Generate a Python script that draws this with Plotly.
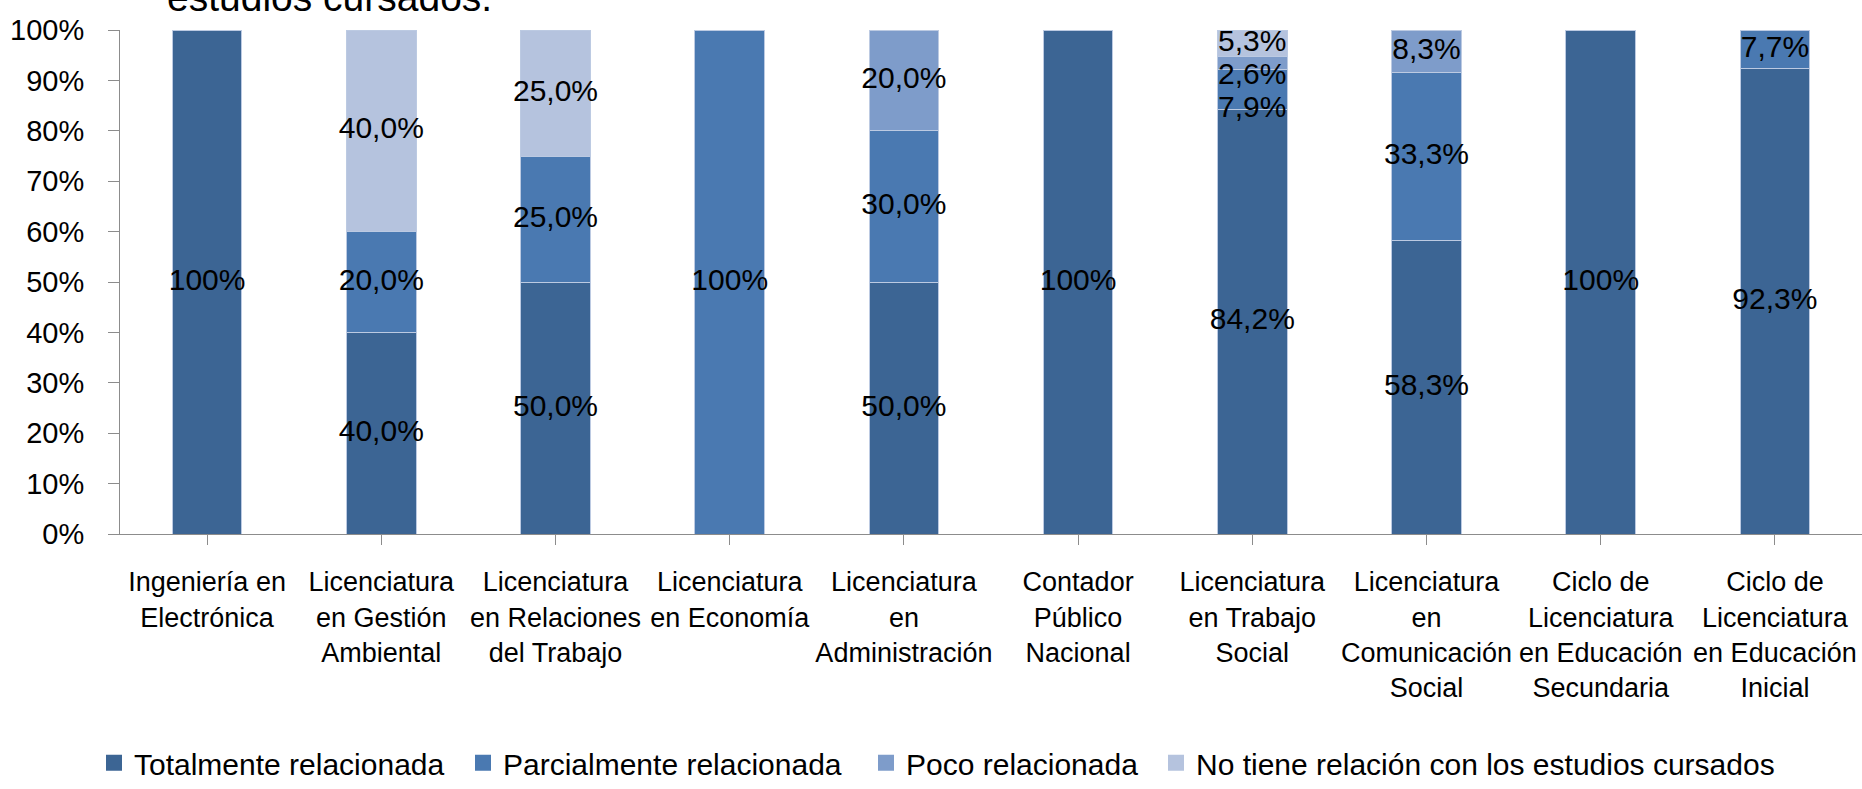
import plotly.graph_objects as go

categories = [
    "Ingeniería en<br>Electrónica",
    "Licenciatura<br>en Gestión<br>Ambiental",
    "Licenciatura<br>en Relaciones<br>del Trabajo",
    "Licenciatura<br>en Economía",
    "Licenciatura<br>en<br>Administración",
    "Contador<br>Público<br>Nacional",
    "Licenciatura<br>en Trabajo<br>Social",
    "Licenciatura<br>en<br>Comunicación<br>Social",
    "Ciclo de<br>Licenciatura<br>en Educación<br>Secundaria",
    "Ciclo de<br>Licenciatura<br>en Educación<br>Inicial",
]

series_names = [
    "Totalmente relacionada",
    "Parcialmente relacionada",
    "Poco relacionada",
    "No tiene relación con los estudios cursados",
]

totalmente = [100.0, 40.0, 50.0, 0.0, 50.0, 100.0, 84.2, 58.3, 100.0, 92.3]
parcialmente = [0.0, 20.0, 25.0, 100.0, 30.0, 0.0, 7.9, 33.3, 0.0, 7.7]
poco = [0.0, 0.0, 0.0, 0.0, 20.0, 0.0, 2.6, 8.3, 0.0, 0.0]
no_tiene = [0.0, 40.0, 25.0, 0.0, 0.0, 0.0, 5.3, 0.0, 0.0, 0.0]

colors = ["#3C6594", "#4A79B1", "#7E9CCA", "#B5C3DE"]

y_tickvals = [0, 0.1, 0.2, 0.3, 0.4, 0.5, 0.6, 0.7, 0.8, 0.9, 1.0]
y_ticktext = ["0%", "10%", "20%", "30%", "40%", "50%", "60%", "70%", "80%", "90%", "100%"]

FONT = "Liberation Sans, Arial, sans-serif"

W, H = 1862, 789
ML, MT = 120, 30
PLOT_BOTTOM = 541
MB = H - PLOT_BOTTOM
PLOT_H = PLOT_BOTTOM - MT
PLOT_W = W - ML

# legend entry left edges (page px) for the four series
legend_px = [94, 463, 866, 1156]
legend_ids = ["legend", "legend2", "legend3", "legend4"]

all_series = [totalmente, parcialmente, poco, no_tiene]
xidx = list(range(len(categories)))

fig = go.Figure()
for name, vals, col, lid in zip(series_names, all_series, colors, legend_ids):
    fig.add_trace(go.Bar(
        x=xidx, y=[v / 100 for v in vals], name=name,
        marker=dict(color=col, line=dict(color="#BCCAE2", width=1)),
        width=0.4, hoverinfo="skip", showlegend=False, legendgroup=name,
    ))
    # legend key (square swatch) for the series
    fig.add_trace(go.Scatter(
        x=[None], y=[None], mode="markers", name=name, legend=lid,
        legendgroup=name,
        marker=dict(symbol="square", size=19, color=col, line=dict(width=0)),
        hoverinfo="skip",
    ))

# label positions: segment midpoints, with simple overlap avoidance from the top down
MIN_SEP = 0.066
lab_x, lab_y, lab_t = [], [], []
for i in xidx:
    base = 0.0
    segs = []
    for vals in all_series:
        v = vals[i] / 100
        if v > 0:
            segs.append([base + v / 2, vals[i]])
        base += v
    for k in range(len(segs) - 2, -1, -1):
        if segs[k + 1][0] - segs[k][0] < MIN_SEP:
            segs[k][0] = segs[k + 1][0] - MIN_SEP
    for pos, val in segs:
        txt = "100%" if val >= 100 else (f"{val:.1f}%".replace(".", ","))
        lab_x.append(i)
        lab_y.append(pos)
        lab_t.append(txt)

fig.add_trace(go.Scatter(
    x=lab_x, y=lab_y, text=lab_t, mode="text", showlegend=False,
    textfont=dict(family=FONT, size=30, color="#000000"), hoverinfo="skip",
))

fig.add_annotation(
    text="estudios cursados.", xref="paper", yref="paper",
    x=(165 - ML) / PLOT_W, y=1 + (MT - 21) / PLOT_H,
    xanchor="left", yanchor="bottom", showarrow=False,
    font=dict(family=FONT, size=39, color="#000000"),
)

legend_common = dict(
    orientation="h", xanchor="left",
    y=-(773 - PLOT_BOTTOM) / PLOT_H, yanchor="middle",
    font=dict(family=FONT, size=30, color="#000000"),
    itemclick=False, itemdoubleclick=False,
    bgcolor="rgba(0,0,0,0)",
)
legend_layout = {}
for lid, px in zip(legend_ids, legend_px):
    legend_layout[lid] = dict(legend_common, x=(px - ML) / PLOT_W)

fig.update_layout(
    width=W, height=H,
    barmode="stack",
    paper_bgcolor="white", plot_bgcolor="white",
    margin=dict(l=ML, r=0, t=MT, b=MB),
    font=dict(family=FONT, color="#000000"),
    showlegend=True,
    xaxis=dict(
        tickmode="array", tickvals=xidx, ticktext=categories,
        range=[-0.5, 9.5],
        showline=True, linecolor="#8C8C8C", linewidth=1,
        ticks="outside", ticklen=10, tickcolor="#8C8C8C", tickson="boundaries",
        showgrid=False, zeroline=False,
        tickfont=dict(family=FONT, size=27, color="#000000"),
        ticklabelstandoff=14,
        fixedrange=True,
    ),
    yaxis=dict(
        range=[0, 1], tickmode="array", tickvals=y_tickvals, ticktext=y_ticktext,
        showline=True, linecolor="#8C8C8C", linewidth=1,
        ticks="outside", ticklen=11, tickcolor="#8C8C8C",
        showgrid=False, zeroline=False,
        tickfont=dict(family=FONT, size=29, color="#000000"),
        ticklabelstandoff=18,
        fixedrange=True,
    ),
    **legend_layout,
)

fig.write_html(
    "out.html",
    config={"displayModeBar": False},
    post_script="document.body.style.margin='0';document.body.style.overflow='hidden';",
)
